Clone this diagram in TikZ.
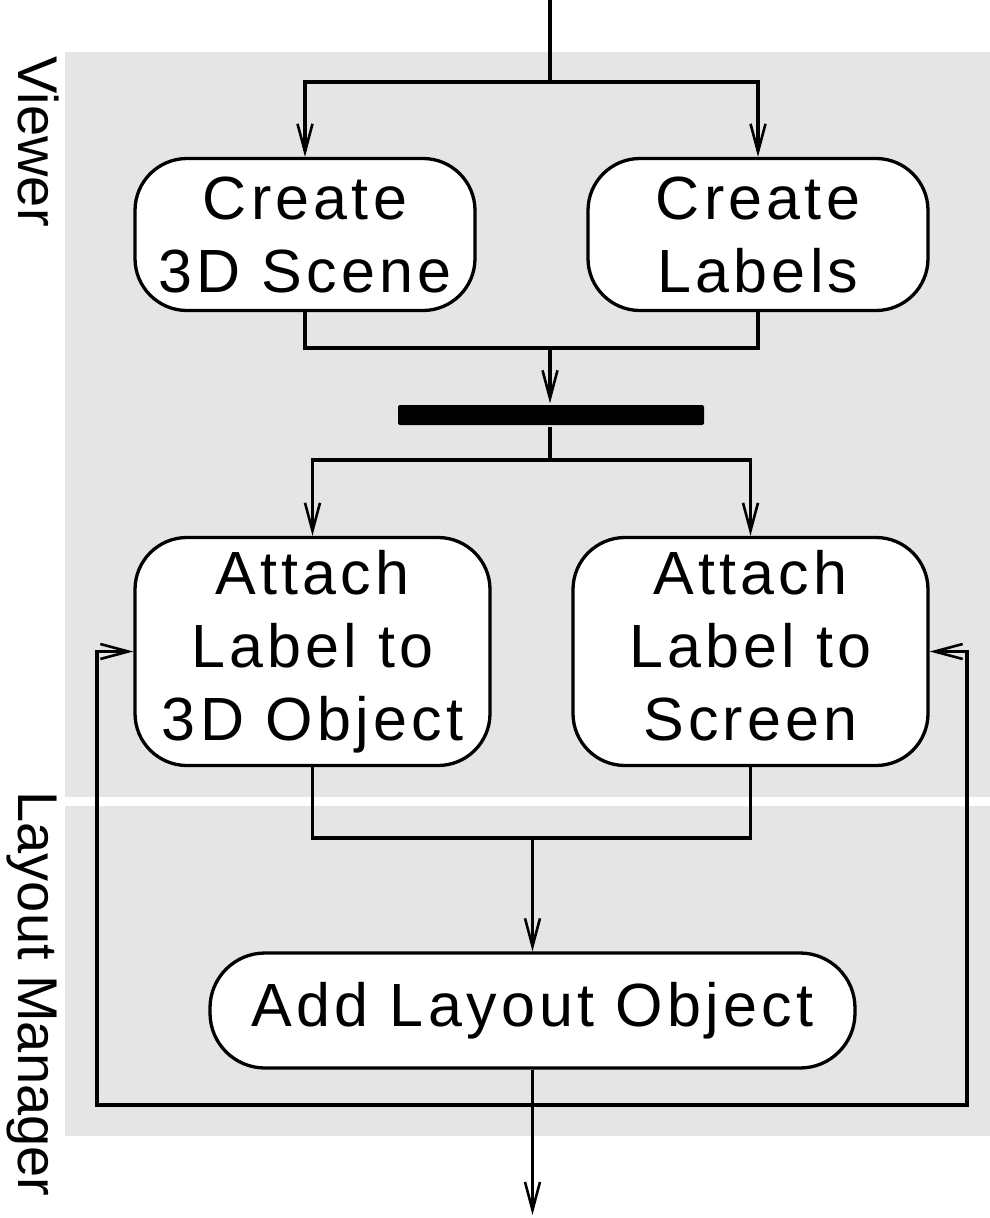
\documentclass[tikz,border=0pt]{standalone}
\usepackage{fontspec}
\setmainfont{Liberation Sans}
\newfontfamily\boxfont[LetterSpace=7]{Liberation Sans}
\usetikzlibrary{arrows.meta}
\definecolor{lanegray}{HTML}{E5E5E5}
\begin{document}
\begin{tikzpicture}[x=1pt,y=-1pt,
  line width=3.3pt,
  >={Straight Barb[length=28pt,width=15pt,line width=2.6pt]},
  lane/.style={fill=lanegray,draw=none},
  lanelabel/.style={rotate=-90,anchor=base west,inner sep=0pt,font=\fontsize{56}{60}\selectfont},
  actbox/.style={draw,fill=white,line width=3.3pt,rounded corners=52pt,align=center,
     inner sep=0pt,font=\boxfont\fontsize{61}{73}\selectfont},
  barnode/.style={fill=black,draw=none,rounded corners=2pt,minimum width=306pt,minimum height=20pt,inner sep=0pt},
  flow/.style={line width=3.3pt}]
\fill[white] (0,0) rectangle (990,1218);
\useasboundingbox (0,0) rectangle (990,1218);
% lanes
\path[lane] (65,52) rectangle (990,797);
\path[lane] (65,806) rectangle (990,1136);
\node[lanelabel] (lv) at (18,55) {Viewer};
\node[lanelabel] (ll) at (18,790) {Layout Manager};
% nodes
\node[actbox,minimum width=340pt,minimum height=152pt] (s1) at (305,234.5) {Create\\3D Scene};
\node[actbox,minimum width=340pt,minimum height=152pt] (s2) at (758,234.5) {Create\\Labels};
\node[barnode] (bar) at (551,415) {};
\node[actbox,minimum width=355pt,minimum height=228pt] (a1) at (312.5,651.5) {Attach\\Label to\\3D Object};
\node[actbox,minimum width=355pt,minimum height=228pt] (a2) at (750.5,651.5) {Attach\\Label to\\Screen\vphantom{j}};
\node[actbox,minimum width=645pt,minimum height=115pt,rounded corners=55pt] (add) at (532.5,1010.5) {Add Layout Object};
% coordinates
\coordinate (top) at (550,0);
\coordinate (f1) at (550,82);
\coordinate (j1) at (550,348);
\coordinate (f2) at (550,460);
\coordinate (j2) at (532.5,838);
\coordinate (lp) at (532.5,1105);
\coordinate (lL) at (97,1105);
\coordinate (lR) at (967,1105);
\coordinate (endp) at (532.5,1215);
% connectors
\draw[flow] (top) -- (f1);
\draw[flow,->] (f1) -| (s1.north);
\draw[flow,->] (f1) -| (s2.north);
\draw[flow] (s1.south) |- (j1);
\draw[flow] (s2.south) |- (j1);
\draw[flow,->] (j1) -- (j1 |- bar.north);
\draw[flow] (f2 |- bar.south) -- (f2);
\draw[flow,->] (f2) -| (a1.north);
\draw[flow,->] (f2) -| (a2.north);
\draw[flow] (a1.south) |- (j2);
\draw[flow] (a2.south) |- (j2);
\draw[flow,->] (j2) -- (add.north);
\draw[flow,->] (add.south) -- (endp);
\draw[flow,->] (lp) -- (lL) |- (a1.west);
\draw[flow,->] (lp) -- (lR) |- (a2.east);
\end{tikzpicture}
\end{document}
